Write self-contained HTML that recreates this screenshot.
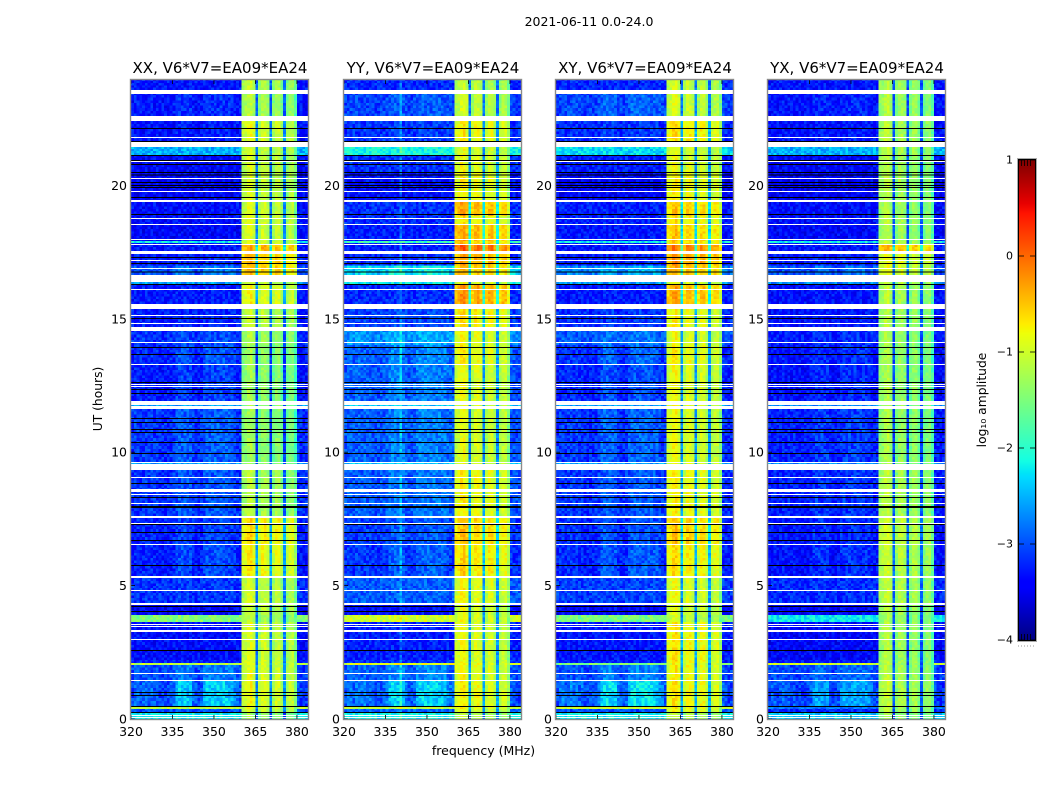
<!DOCTYPE html>
<html lang="en">
<head>
<meta charset="utf-8">
<title>2021-06-11 amplitude waterfall</title>
<style>
html,body{margin:0;padding:0;background:#fff;width:1050px;height:800px;overflow:hidden}
svg{display:block}
text{font-family:"DejaVu Sans","Liberation Sans",sans-serif;fill:#000}
</style>
</head>
<body>
<svg id="chart" xmlns="http://www.w3.org/2000/svg" width="1050" height="800" viewBox="0 0 1050 800">
  <text x="589" y="26" font-size="12.5" text-anchor="middle">2021-06-11 0.0-24.0</text>
  <text x="483.5" y="755" font-size="12.5" text-anchor="middle">frequency (MHz)</text>
  <text transform="translate(102,399) rotate(-90)" font-size="12.3" text-anchor="middle">UT (hours)</text>
  <text transform="translate(986,400) rotate(-90)" font-size="12.3" text-anchor="middle">log₁₀ amplitude</text>
  <g id="panels"></g>
  <g id="colorbar"></g>
</svg>
<script>
// ---- Chart data (log10 amplitude) ----
const panelTitles = ["XX, V6*V7=EA09*EA24","YY, V6*V7=EA09*EA24","XY, V6*V7=EA09*EA24","YX, V6*V7=EA09*EA24"];
const xTicks = [320,335,350,365,380];
const yTicks = [0,5,10,15,20];
const colorbarTicks = [1,0,-1,-2,-3,-4];
const colorbarLabels = ["1","0","−1","−2","−3","−4"];

// Top edge (UT hours) of each time segment, newest first
const segmentTopHours = [24,23.58,22.6,21.44,21.14,20.5,19.38,18.85,18.55,17.92,17.84,17.77,17.43,17.0,16.38,16.3,15.37,14.69,14.02,13.27,11.92,11.62,9.63,9.33,7.61,6.52,5.36,4.35,3.9,3.64,2.21,2.1,2.02,1.46,0.49,0.37,0.26];

// Off-band (320-360, 380-384 MHz) level per segment
const xxLow = [-3.3,-3.35,-3.35,-2.5,-3.4,-3.42,-3.35,-3.35,-3.4,-2.2,-3.3,-3.3,-3.3,-3.05,-2.6,-3.3,-3.3,-3.2,-3.3,-3.35,-2.6,-3.2,-2.6,-3.2,-3.3,-3.35,-3.15,-3.42,-1.45,-3.35,-3.25,-1.1,-3.1,-3.15,-1.1,-3.0,-2.2];
const yyLow = [-3.2,-3.1,-3.15,-2.1,-3.15,-3.35,-3.15,-3.2,-3.25,-1.9,-3.2,-3.25,-3.2,-2.4,-2.2,-3.2,-3.1,-2.7,-3.0,-3.0,-2.4,-3.0,-2.4,-3.0,-3.15,-3.2,-2.95,-3.35,-1.0,-3.25,-3.15,-0.9,-3.0,-3.05,-1.1,-2.9,-2.15];
const xyLow = [-3.2,-3.1,-3.2,-2.3,-3.25,-3.42,-3.25,-3.25,-3.3,-2.2,-3.3,-3.3,-3.3,-2.8,-2.6,-3.3,-3.2,-3.0,-3.25,-3.3,-2.6,-3.2,-2.6,-3.2,-3.25,-3.3,-3.1,-3.4,-1.5,-3.3,-3.25,-1.5,-3.1,-3.1,-1.0,-3.0,-2.2];
const yxLow = [-3.3,-3.35,-3.35,-2.5,-3.4,-3.45,-3.35,-3.35,-3.4,-2.2,-3.3,-3.3,-3.3,-3.05,-2.7,-3.35,-3.35,-3.3,-3.4,-3.4,-2.7,-3.3,-2.7,-3.3,-3.35,-3.4,-3.2,-3.42,-2.2,-3.4,-3.3,-1.0,-3.1,-3.15,-2.8,-3.2,-2.4];

// In-band (360-380 MHz) level per segment
const xxHigh = [-1.2,-1.25,-1.0,-1.1,-1.1,-1.1,-1.05,-1.0,-1.05,-1.0,-1.0,-0.45,-0.55,-0.55,-1.1,-0.9,-1.15,-1.3,-1.4,-1.4,-1.4,-1.4,-1.4,-1.25,-0.75,-0.85,-1.1,-1.15,-1.25,-1.05,-1.0,-1.0,-1.0,-0.95,-1.0,-1.1,-1.4];
const yyHigh = [-1.15,-1.1,-0.85,-1.0,-0.95,-0.85,-0.45,-0.8,-0.45,-0.6,-0.55,-0.05,-0.4,-0.55,-1.0,-0.35,-0.75,-0.9,-0.85,-0.95,-1.0,-1.0,-1.0,-0.85,-0.6,-0.7,-0.9,-1.0,-0.95,-0.95,-0.95,-0.85,-0.9,-0.85,-0.85,-1.0,-1.2];
const xyHigh = [-1.1,-1.05,-0.75,-1.0,-0.95,-0.85,-0.6,-0.8,-0.6,-0.7,-0.65,-0.2,-0.35,-0.5,-1.0,-0.45,-0.85,-0.95,-0.85,-0.95,-0.95,-0.95,-0.95,-0.85,-0.6,-0.75,-0.95,-1.0,-1.1,-0.8,-0.8,-0.9,-0.85,-0.8,-0.85,-0.9,-1.2];
const yxHigh = [-1.3,-1.3,-1.25,-1.25,-1.3,-1.3,-1.3,-1.25,-1.3,-1.2,-1.2,-0.5,-0.95,-1.0,-1.2,-1.25,-1.3,-1.35,-1.35,-1.35,-1.35,-1.35,-1.35,-1.25,-1.1,-1.15,-1.2,-1.3,-1.35,-1.3,-1.25,-1.3,-1.25,-1.2,-1.25,-1.3,-1.4];

// How strongly the broad 335-355 MHz emission shows in each segment
const humpLevels = [0,0.2,0.1,0,0,0,0,0,0,0,0,0,0.1,0.3,0,0.05,0.1,0.2,0.35,0.3,0,0.3,0,0.25,0.25,0.35,0.05,0,0,0,0,0,0.35,0.8,0,0,0];
const panelHumpGain = [1,0.9,1.1,0.75];

// Per-channel shapes: 64 channels of 1 MHz from 320 MHz
const channelFreqs = [320,321,322,323,324,325,326,327,328,329,330,331,332,333,334,335,336,337,338,339,340,341,342,343,344,345,346,347,348,349,350,351,352,353,354,355,356,357,358,359,360,361,362,363,364,365,366,367,368,369,370,371,372,373,374,375,376,377,378,379,380,381,382,383];
const humpShape = [0.1,0.35,0.4,0.2,0.35,0.45,0.3,0.4,0.25,0.3,0.1,0.1,0.1,0.15,0.2,0.4,0.85,1,1,0.95,0.9,0.85,0.4,0.2,0.15,0.3,0.8,1,1,1,1,1,1,1,0.95,0.9,0.85,0.6,0.35,0.2,0,0,0,0,0,0,0,0,0,0,0,0,0,0,0,0,0,0,0,0,0.25,0.1,0,0];
// null = channel follows the off-band level; number = offset from the in-band level
const channelHighGain = [null,null,null,null,null,null,null,null,null,null,null,null,null,null,null,null,null,null,null,null,null,null,null,null,null,null,null,null,null,null,null,null,null,null,null,null,null,null,null,null,-0.1,0.0,0.15,0.2,0.0,-1.7,-0.2,0.05,0.05,-0.1,-1.7,-0.25,0,0,-0.3,-1.7,-0.3,-0.1,-0.1,-0.5,null,null,null,null];
const yySpurChannel = [20];

// Fine speckle read as digits 0-9, one string per row
const speckleRows = [
"3714925806136742958103647290581736429501837264950183746205918374",
"8026417953250863149260581374926853170492660813749205583174926054",
"1593786240971538264097315286407915328640917532846097153826409735",
"6248015397462801953746218059374628105937642801593476280159734662",
"4871630259487316025984713602954871360529487163025948173602594871",
"2609574138260957148326095471832690574183206957418326905741832609",
"9352647018935264701893256407189352460718953264071893526047189352",
"0748259631074852936107482953610784259361047825936107428593610748",
"5186307294518360792451863709245816307924581630792451683079245186",
"7431096285743190682574301968257413109682574310986257431906825431",
"2965148307296541803729651840372956514803729615480372965148073965",
"4390172658340917265843091276584390127658439012675843901726584390",
"6157382940615378294061573829406517382940651738294065713829406157"
];

// Flagged (blank) time ranges in UT hours: start/end pairs
const whiteGapTop =    [23.58,22.60,21.81,21.63,20.91,20.28,19.79,19.45,18.78,18.55,17.99,17.80,17.54,17.20,16.90,16.64,16.12,15.55,15.14,14.84,14.69,14.13,13.31,12.56,12.48,11.92,11.73,9.63,9.56,9.07,8.62,8.43,8.10,7.61,7.35,6.56,5.36,4.83,4.35,3.56,3.49,3.34,3.00,1.72,1.46,0.15,0.07];
const whiteGapBottom = [23.43,22.41,21.77,21.44,20.87,20.24,19.75,19.38,18.74,18.51,17.95,17.76,17.43,17.16,16.86,16.38,16.08,15.37,15.10,14.80,14.54,14.09,13.27,12.52,12.44,11.77,11.62,9.59,9.33,9.03,8.51,8.39,8.06,7.53,7.31,6.52,5.28,4.79,4.27,3.52,3.45,3.26,2.96,1.68,1.42,0.11,0.03];
// Flagged rows that render black, UT hours
const blackLineHours = [22.15,21.66,21.14,20.95,20.80,20.50,20.41,20.13,20.01,19.94,19.56,18.93,17.32,17.09,16.77,16.30,15.03,13.94,13.68,12.63,12.37,12.22,11.28,11.13,10.87,10.76,10.38,9.97,8.85,8.32,7.98,7.94,7.31,7.01,6.71,5.77,4.24,4.05,2.59,1.01,0.90,0.49,0.26];

const panelLows = [xxLow,yyLow,xyLow,yxLow];
const panelHighs = [xxHigh,yyHigh,xyHigh,yxHigh];

// ---- Layout and helpers ----
const NS = "http://www.w3.org/2000/svg";
const panelLefts = [131,344,556,768];
const panelWidth = 177, axisTop = 80, axisBottom = 719;
function xScale(left,f){ return left + (f-320)*panelWidth/64; }
function yScale(h){ return axisBottom - h*26.68; }
function node(tag,attrs,parent){
  const e = document.createElementNS(NS,tag);
  for(const k in attrs) e.setAttribute(k,attrs[k]);
  parent.appendChild(e);
  return e;
}
function interp(pts,t){
  for(let i=1;i<pts.length;i++){
    if(t<=pts[i][0]){
      const a=pts[i-1],b=pts[i];
      return a[1]+(b[1]-a[1])*(t-a[0])/(b[0]-a[0]);
    }
  }
  return pts[pts.length-1][1];
}
function jet(t){
  t=Math.max(0,Math.min(1,t));
  const r=interp([[0,0],[0.35,0],[0.66,1],[0.89,1],[1,0.5]],t);
  const g=interp([[0,0],[0.125,0],[0.375,1],[0.64,1],[0.91,0],[1,0]],t);
  const b=interp([[0,0.5],[0.11,1],[0.34,1],[0.65,0],[1,0]],t);
  return "rgb("+Math.round(r*255)+","+Math.round(g*255)+","+Math.round(b*255)+")";
}
function colorOf(v){ return jet((v+4)/5); }

// ---- Panels ----
const panelsRoot = document.getElementById("panels");
const defs = node("defs",{},panelsRoot);
panelTitles.forEach(function(title,p){
  const left = panelLefts[p];
  const clip = node("clipPath",{id:"clip"+p},defs);
  node("rect",{x:left,y:axisTop,width:panelWidth,height:axisBottom-axisTop},clip);

  const panel = node("g",{},panelsRoot);
  
  

  const cells = node("g",{"clip-path":"url(#clip"+p+")","shape-rendering":"crispEdges"},panel);
  
  

  const low = panelLows[p], high = panelHighs[p];
  let rowCounter = p*3;
  segmentTopHours.forEach(function(top,s){
    const bottom = s+1<segmentTopHours.length ? segmentTopHours[s+1] : 0;
    const rows = Math.max(1,Math.ceil((top-bottom)/0.1));
    const dh = (top-bottom)/rows;
    for(let r=0;r<rows;r++){
      const speckle = speckleRows[rowCounter%speckleRows.length];
      const shift = (rowCounter*5+p*7)%speckle.length;
      rowCounter++;
      const y0 = yScale(top-r*dh), y1 = yScale(top-(r+1)*dh);
      channelFreqs.forEach(function(f,c){
        const gain = channelHighGain[c];
        const noise = parseInt(speckle[(c+shift)%speckle.length],10)-4.5;
        let v;
        if(gain===null){
          v = low[s] + humpLevels[s]*panelHumpGain[p]*humpShape[c] + noise*0.055;
          if(p===1 && yySpurChannel.indexOf(c)>=0) v += 0.35;
        } else {
          v = high[s] + gain + noise*0.035;
        }
        const cell = node("rect",{x:xScale(left,f).toFixed(2),y:y0.toFixed(2),width:(panelWidth/64+0.4).toFixed(2),height:(y1-y0+0.4).toFixed(2),fill:colorOf(v)},cells);
        
        
      });
    }
  });

  whiteGapTop.forEach(function(t,i){
    const gap = node("rect",{x:left,y:yScale(t).toFixed(2),width:panelWidth,height:(yScale(whiteGapBottom[i])-yScale(t)).toFixed(2),fill:"#fff"},cells);
    
    
  });
  blackLineHours.forEach(function(t){
    const line = node("rect",{x:left,y:yScale(t).toFixed(2),width:panelWidth,height:1,fill:"#000"},cells);
    
    
  });

  // ticks and labels
  xTicks.forEach(function(f){
    const x = xScale(left,f);
    const tick = node("line",{x1:x,x2:x,y1:axisBottom,y2:axisBottom-4,stroke:"#000","stroke-width":0.8},panel);
    
    
    const topTick = node("line",{x1:x,x2:x,y1:axisTop,y2:axisTop+4,stroke:"#000","stroke-width":0.8},panel);
    
    
    const lab = node("text",{x:x,y:736,"font-size":12.5,"text-anchor":"middle"},panel);
    lab.textContent = f;
    
    
  });
  yTicks.forEach(function(h){
    const y = yScale(h);
    const tick = node("line",{x1:left,x2:left+4,y1:y,y2:y,stroke:"#000","stroke-width":0.8},panel);
    
    
    const lab = node("text",{x:left-4,y:y+4.5,"font-size":12.5,"text-anchor":"end"},panel);
    lab.textContent = h;
    
    
  });

  const frame = node("rect",{x:left-0.5,y:axisTop-0.5,width:panelWidth+1,height:axisBottom-axisTop+1,fill:"none",stroke:"#8a8a8a","stroke-width":1.4},panel);
  
  

  const ttl = node("text",{x:left+panelWidth/2+0.5,y:73,"font-size":15,"text-anchor":"middle"},panel);
  ttl.textContent = title;
  
  
});

// ---- Colorbar ----
const cbRoot = document.getElementById("colorbar");
const cbLeft = 1019, cbRight = 1035, cbTop = 160, cbBottom = 640;
function cbY(v){ return cbBottom - (v+4)*(cbBottom-cbTop)/5; }
const cbGroup = node("g",{"shape-rendering":"crispEdges"},cbRoot);
for(let i=0;i<240;i++){
  const v0 = -4 + 5*i/240;
  const seg = node("rect",{x:cbLeft,y:(cbY(v0+5/240)).toFixed(2),width:cbRight-cbLeft,height:2.6,fill:colorOf(v0+2.5/240)},cbGroup);
  
  
}
colorbarTicks.forEach(function(v,i){
  const y = cbY(v);
  const a = node("line",{x1:cbLeft,x2:cbLeft+5,y1:y,y2:y,stroke:"#000","stroke-width":0.8},cbRoot);
  
  
  const b = node("line",{x1:cbRight-5,x2:cbRight,y1:y,y2:y,stroke:"#000","stroke-width":0.8},cbRoot);
  
  
  const lab = node("text",{x:1013,y:y+3.5,"font-size":11,"text-anchor":"end"},cbRoot);
  lab.textContent = colorbarLabels[i];
  
  
});
const cbTopMinor = node("line",{x1:cbLeft+2,x2:cbRight-2,y1:cbTop+3,y2:cbTop+3,stroke:"#000","stroke-width":6,"stroke-dasharray":"0.8 2.2"},cbRoot);


const cbBottomMinor = node("line",{x1:cbLeft+2,x2:cbRight-2,y1:cbBottom-3,y2:cbBottom-3,stroke:"#000","stroke-width":6,"stroke-dasharray":"0.8 2.2"},cbRoot);


const cbFrameOuter = node("rect",{x:cbLeft-0.5,y:cbTop-0.5,width:cbRight-cbLeft+1,height:cbBottom-cbTop+1,fill:"none",stroke:"#000","stroke-width":1},cbRoot);


const cbFrameGrey = node("rect",{x:cbLeft-1.5,y:cbTop-1.5,width:cbRight-cbLeft+3,height:cbBottom-cbTop+3,fill:"none",stroke:"#aaa","stroke-width":1},cbRoot);


const cbDots = node("line",{x1:1018,x2:1036,y1:646,y2:646,stroke:"#999","stroke-width":1,"stroke-dasharray":"1 2"},cbRoot);


</script>
</body>
</html>
